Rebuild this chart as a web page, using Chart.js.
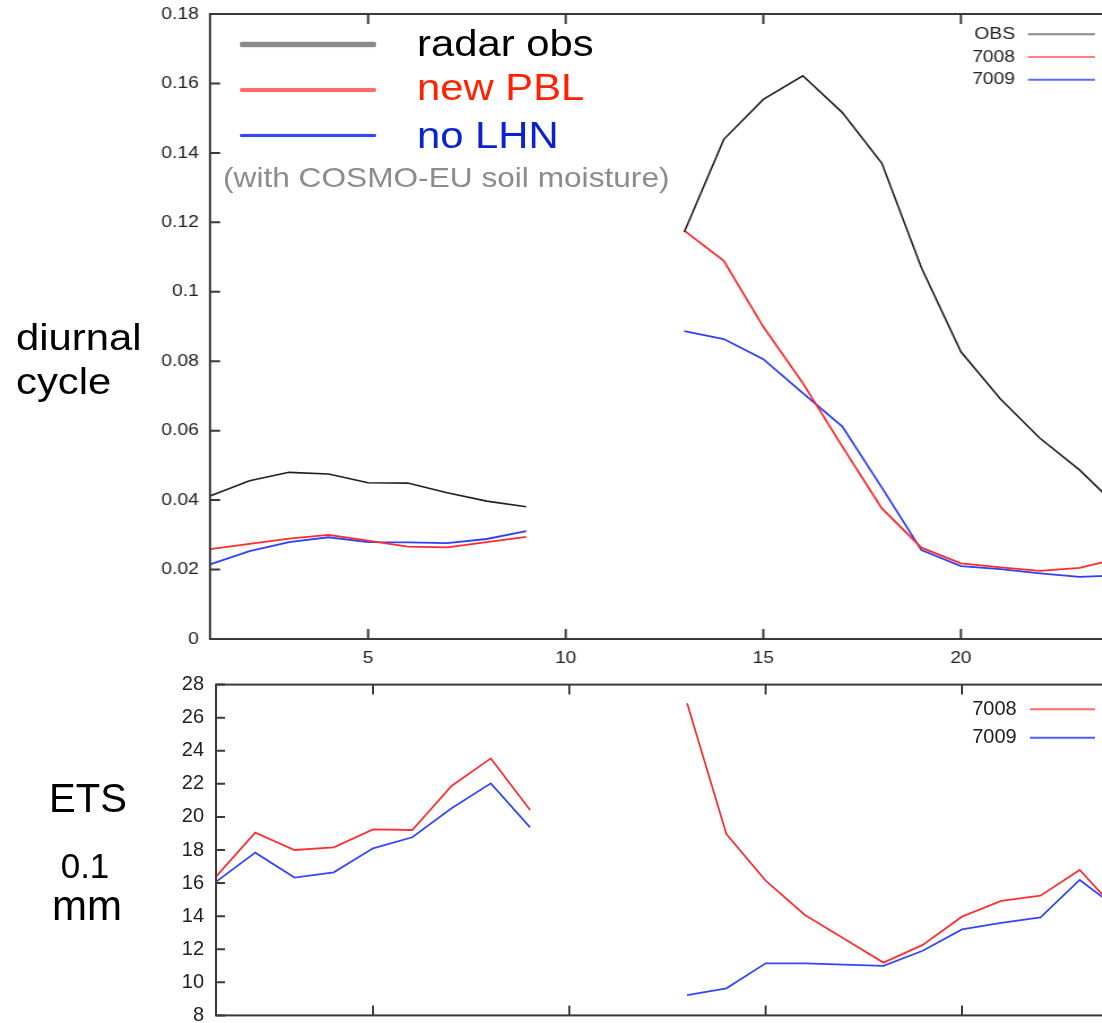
<!DOCTYPE html>
<html>
<head>
<meta charset="utf-8">
<script src="https://cdn.jsdelivr.net/npm/chart.js@4.4.1/dist/chart.umd.min.js"></script>
<style>
  html, body { margin: 0; padding: 0; background: #fff; width: 1102px; height: 1023px; overflow: hidden; }
  body { position: relative; font-family: 'Liberation Sans', Arial, sans-serif; }
  .abs { position: absolute; white-space: nowrap; line-height: 1; }
  .str { transform: scaleX(1.13); transform-origin: 0 0; }
  #topWrap { position: absolute; left: 0; top: 0; width: 1000px; height: 665px; transform: scaleX(1.13); transform-origin: 0 0; }
  #botWrap { position: absolute; left: 0; top: 660px; width: 1130px; height: 380px; }
  .bar { position: absolute; border-radius: 2px; }
</style>
</head>
<body>
<div id="topWrap"><canvas id="topChart" width="1000" height="665"></canvas></div>
<div id="botWrap"><canvas id="botChart" width="1130" height="380"></canvas></div>

<!-- annotation legend (slide text) -->
<div class="bar" style="left:240px; top:41.5px; width:136px; height:5px; background:#8a8a8a; box-shadow:0 0 1.5px #8a8a8a;"></div>
<div class="bar" style="left:240px; top:88px; width:136px; height:4px; background:#ff6a6a; box-shadow:0 0 1px #ff9090;"></div>
<div class="bar" style="left:240px; top:133.5px; width:136px; height:3.5px; background:#3347f2; box-shadow:0 0 1px #6070ff;"></div>
<div class="abs str" style="left:417px; top:25.4px; font-size:37px; color:#000;">radar obs</div>
<div class="abs str" style="left:417px; top:68.7px; font-size:37px; color:#ff2200;">new PBL</div>
<div class="abs str" style="left:417px; top:117px; font-size:37px; color:#0a22cf;">no LHN</div>
<div class="abs str" style="left:223px; top:163.6px; font-size:28px; color:#8c8c8c;">(with COSMO-EU soil moisture)</div>

<!-- row labels -->
<div class="abs str" style="left:16px; top:318.7px; font-size:37px; color:#000;">diurnal</div>
<div class="abs str" style="left:16px; top:363.2px; font-size:37px; color:#000;">cycle</div>
<div class="abs" style="left:28px; width:120px; text-align:center; top:777.8px; font-size:40px; color:#000;">ETS</div>
<div class="abs" style="left:25px; width:120px; text-align:center; top:847.5px; font-size:35px; color:#000;">0.1</div>
<div class="abs" style="left:27px; width:120px; text-align:center; top:885.1px; font-size:42px; color:#000;">mm</div>

<script>
// ---------- data ----------
const HOURS = [1,2,3,4,5,6,7,8,9,10,11,12,13,14,15,16,17,18,19,20,21,22,23,24];

// diurnal cycle (top panel)
const DIUR_OBS  = [0.0412,0.0456,0.0480,0.0475,0.0450,0.0449,0.0421,0.0397,0.0381,null,null,null,0.1172,0.1439,0.1554,0.1622,0.1516,0.1370,0.1069,0.0827,0.0691,0.0578,0.0487,0.0377];
const DIUR_7008 = [0.0259,0.0274,0.0289,0.0300,0.0283,0.0266,0.0264,0.0279,0.0294,null,null,null,0.1176,0.1089,0.0899,0.0737,0.0554,0.0376,0.0263,0.0218,0.0206,0.0196,0.0205,0.0232];
const DIUR_7009 = [0.0215,0.0253,0.0279,0.0293,0.0279,0.0278,0.0276,0.0288,0.0311,null,null,null,0.0887,0.0864,0.0806,0.0708,0.0612,0.0436,0.0256,0.0210,0.0201,0.0189,0.0179,0.0183];

// ETS 0.1 mm (bottom panel)
const ETS_7008 = [16.39,19.05,18.00,18.16,19.25,19.21,21.87,23.54,20.42,null,null,null,26.87,18.97,16.15,14.07,12.64,11.19,12.26,13.97,14.92,15.24,16.79,14.20];
const ETS_7009 = [16.08,17.84,16.33,16.65,18.10,18.77,20.52,22.03,19.37,null,null,null,9.23,9.64,11.15,11.15,11.07,10.99,11.91,13.20,13.60,13.93,16.19,14.40];

const X_TICKS = [5,10,15,20];
const TOP_Y_TICKS = [0,0.02,0.04,0.06,0.08,0.1,0.12,0.14,0.16,0.18];
const BOT_Y_TICKS = [8,10,12,14,16,18,20,22,24,26,28];

const SERIES_LABELS = ['OBS','7008','7009'];

// ---------- helpers ----------
const pts = (vals) => HOURS.map((h, i) => ({ x: h, y: vals[i] }));
const FONT = "'Liberation Sans', Arial, sans-serif";

const framePlugin = {
  id: 'frame',
  afterDatasetsDraw(chart, args, o) {
    const { ctx, chartArea: a, scales } = chart;
    ctx.save();
    ctx.strokeStyle = '#3a3a3a';
    ctx.lineWidth = 2;
    ctx.beginPath();
    scales.y.ticks.forEach(t => {
      const py = scales.y.getPixelForValue(t.value);
      ctx.moveTo(a.left, py); ctx.lineTo(a.left + o.tickLenY, py);
      ctx.moveTo(a.right, py); ctx.lineTo(a.right - o.tickLenY, py);
    });
    scales.x.ticks.forEach(t => {
      const px = scales.x.getPixelForValue(t.value);
      ctx.moveTo(px, a.bottom); ctx.lineTo(px, a.bottom - o.tickLenX);
      ctx.moveTo(px, a.top); ctx.lineTo(px, a.top + o.tickLenX);
    });
    ctx.stroke();
    ctx.strokeRect(a.left, a.top, a.right - a.left, a.bottom - a.top);

    // gnuplot-style key
    ctx.font = o.keyFont + 'px ' + FONT;
    ctx.textAlign = 'right';
    ctx.textBaseline = 'middle';
    chart.data.datasets.forEach((ds, i) => {
      const y = o.keyY + i * o.keyStep;
      ctx.fillStyle = '#222';
      ctx.fillText(ds.label, o.keyTextX, y);
      ctx.strokeStyle = ds.keyColor;
      ctx.lineWidth = 2;
      ctx.beginPath();
      ctx.moveTo(o.keyLineX0, y); ctx.lineTo(o.keyLineX1, y);
      ctx.stroke();
    });
    ctx.restore();
  }
};

function makeChart(id, datasets, yMin, yMax, yTicks, geo) {
  return new Chart(document.getElementById(id), {
    type: 'line',
    data: { datasets },
    options: {
      responsive: false,
      animation: false,
      devicePixelRatio: 1,
      layout: { padding: { top: geo.top, right: geo.right, left: 0, bottom: 0 } },
      elements: { point: { radius: 0 }, line: { tension: 0, borderWidth: 1.8 } },
      spanGaps: false,
      plugins: {
        legend: { display: false },
        tooltip: { enabled: false },
        frame: geo.frame
      },
      scales: {
        x: {
          type: 'linear', min: 1, max: 24,
          grid: { display: false, drawTicks: false },
          border: { display: false },
          ticks: { font: { family: FONT, size: geo.xFont }, color: '#222', padding: geo.xPad, autoSkip: false, maxRotation: 0 },
          afterBuildTicks: s => { s.ticks = X_TICKS.map(v => ({ value: v })); },
          afterFit: s => { s.height = geo.xHeight; s.paddingLeft = 0; s.paddingRight = 0; }
        },
        y: {
          min: yMin, max: yMax,
          grid: { display: false, drawTicks: false },
          border: { display: false },
          ticks: { font: { family: FONT, size: geo.yFont }, color: '#222', padding: geo.yPad, autoSkip: false,
                   callback: v => String(+Number(v).toFixed(2)) },
          afterBuildTicks: s => { s.ticks = yTicks.map(v => ({ value: v })); },
          afterFit: s => { s.width = geo.yWidth; s.paddingTop = 0; s.paddingBottom = 0; }
        }
      }
    },
    plugins: [framePlugin]
  });
}

// ---------- top panel (drawn in unstretched coords, stretched 1.13 horizontally by CSS) ----------
const S = 1.13;
makeChart('topChart', [
  { label: SERIES_LABELS[0], data: pts(DIUR_OBS),  borderColor: '#1e1e1e', keyColor: '#8a8a8a', borderWidth: 1.6 },
  { label: SERIES_LABELS[1], data: pts(DIUR_7008), borderColor: '#ff2a2a', keyColor: '#ff8080' },
  { label: SERIES_LABELS[2], data: pts(DIUR_7009), borderColor: '#2f3ffa', keyColor: '#5a6bff' }
], 0, 0.18, TOP_Y_TICKS, {
  top: 14, right: 1000 - 1119 / S, yWidth: 210 / S, xHeight: 665 - 639,
  xFont: 17, yFont: 17, xPad: 9, yPad: 10,
  frame: { tickLenX: 10, tickLenY: 9, keyFont: 17, keyY: 34.3, keyStep: 22.7,
           keyTextX: 1015 / S, keyLineX0: 1028 / S, keyLineX1: 1095 / S }
});

// ---------- bottom panel ----------
makeChart('botChart', [
  { label: SERIES_LABELS[1], data: pts(ETS_7008), borderColor: '#ff3030', keyColor: '#ff6b6b' },
  { label: SERIES_LABELS[2], data: pts(ETS_7009), borderColor: '#3346ff', keyColor: '#4d5dff' }
], 8, 28, BOT_Y_TICKS, {
  top: 684.6 - 660, right: 1130 - 1119, yWidth: 216, xHeight: 380 - (1015.4 - 660),
  xFont: 20, yFont: 20, xPad: 9, yPad: 12,
  frame: { tickLenX: 10, tickLenY: 9, keyFont: 20, keyY: 709.3 - 660, keyStep: 28.4,
           keyTextX: 1016.7, keyLineX0: 1030, keyLineX1: 1095 }
});
</script>
</body>
</html>
